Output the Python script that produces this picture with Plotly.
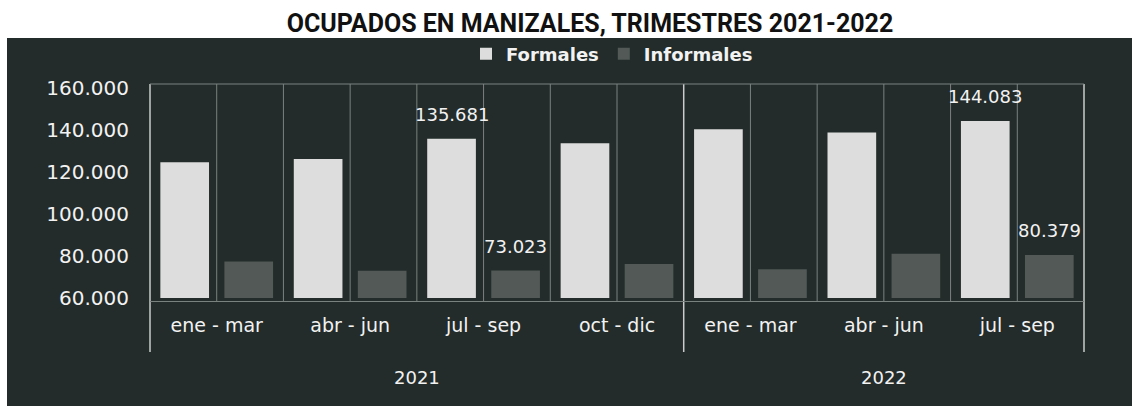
import plotly.graph_objects as go

# ---- data ----
years = ["2021", "2021", "2021", "2021", "2022", "2022", "2022"]
quarters = ["ene - mar", "abr - jun", "jul - sep", "oct - dic", "ene - mar", "abr - jun", "jul - sep"]
formales = [124500, 126000, 135681, 133600, 140200, 138600, 144083]
informales = [77300, 72900, 73023, 76200, 73700, 81000, 80379]
labeled_idx = [2, 6]          # quarters whose values are printed
y_ticks = [60000, 80000, 100000, 120000, 140000, 160000]

W, H = 1132, 406
L, R, T, B = 150, 48, 84, 108
pw, ph = W - L - R, H - T - B

def py(ypix):   # pixel row -> paper y
    return (H - B - ypix) / ph

def px(xpix):   # pixel col -> paper x
    return (xpix - L) / pw

panel = "#232c2a"
formal_c = "#dcdddc"
informal_c = "#525957"
grid_c = "#7a8280"
axis_c = "#c9cccb"
txt_c = "#f2f2f2"
font = "DejaVu Sans"

def fmt(v):
    return f"{v:,}".replace(",", ".")

keys = [f"{y} {q}" for y, q in zip(years, quarters)]

fig = go.Figure()
fig.add_trace(go.Bar(x=keys, y=formales, name="Formales",
                     marker=dict(color=formal_c, line=dict(width=0))))
fig.add_trace(go.Bar(x=keys, y=informales, name="Informales",
                     marker=dict(color=informal_c, line=dict(width=0))))

shapes = []
# dark panel
shapes.append(dict(type="rect", xref="paper", yref="paper", layer="below",
                   x0=px(7), x1=px(W + 2), y0=py(H + 2), y1=py(38),
                   fillcolor=panel, line=dict(width=0)))
n = len(quarters)
# vertical lines at half-category steps
group_bounds = {0, n}
for i in range(1, n):
    if years[i] != years[i - 1]:
        group_bounds.add(i)
for k in range(2 * n + 1):
    pos = k / (2 * n)
    if k % 2 == 0 and (k // 2) in group_bounds:
        shapes.append(dict(type="line", xref="paper", yref="paper",
                           x0=pos, x1=pos, y0=1, y1=py(352),
                           line=dict(color=axis_c, width=1.5)))
    else:
        shapes.append(dict(type="line", xref="paper", yref="paper",
                           x0=pos, x1=pos, y0=1, y1=py(301.5),
                           line=dict(color=grid_c, width=1)))
# top & bottom frame lines
for yy in (1, py(301.5)):
    shapes.append(dict(type="line", xref="paper", yref="paper",
                       x0=0, x1=1, y0=yy, y1=yy,
                       line=dict(color=grid_c, width=1)))

annotations = []
for i in labeled_idx:
    annotations.append(dict(x=i, y=formales[i], xref="x", yref="y",
                            text=fmt(formales[i]), showarrow=False,
                            xanchor="center", yanchor="bottom",
                            xshift=-32, yshift=12,
                            font=dict(family=font, size=18, color=txt_c)))
    annotations.append(dict(x=i, y=informales[i], xref="x", yref="y",
                            text=fmt(informales[i]), showarrow=False,
                            xanchor="center", yanchor="bottom",
                            xshift=32, yshift=12,
                            font=dict(family=font, size=18, color=txt_c)))

# year group labels
seen = []
for y in years:
    if y not in seen:
        seen.append(y)
for y in seen:
    idx = [i for i, v in enumerate(years) if v == y]
    annotations.append(dict(x=(idx[0] + idx[-1]) / 2, y=py(377), xref="x", yref="paper",
                            text=y, showarrow=False, xanchor="center", yanchor="middle",
                            font=dict(family=font, size=18, color=txt_c)))

fig.update_layout(
    width=W, height=H,
    margin=dict(l=L, r=R, t=T, b=B, pad=0),
    paper_bgcolor="white",
    plot_bgcolor="rgba(0,0,0,0)",
    separators=",.",
    barmode="group",
    bargap=0.04,
    bargroupgap=0.24,
    title=dict(text="<b>OCUPADOS EN MANIZALES, TRIMESTRES 2021-2022</b>",
               x=590 / W, xref="container", xanchor="center",
               y=1 - 23 / H, yref="container", yanchor="middle",
               font=dict(family="Roboto", size=25, color="#111111")),
    legend=dict(orientation="h", x=px(612), xanchor="center", y=py(54), yanchor="middle",
                font=dict(family=font, size=18, color=txt_c, weight="bold"),
                bgcolor="rgba(0,0,0,0)", itemclick=False, itemwidth=30),
    xaxis=dict(type="category", tickvals=keys, ticktext=quarters,
               showgrid=False, showline=False, ticks="",
               tickfont=dict(family=font, size=19, color=txt_c),
               ticklabelstandoff=14),
    yaxis=dict(range=[60000, 161700], tickvals=y_ticks, tickformat=",d",
               showgrid=False, zeroline=False, showline=False, ticks="",
               tickfont=dict(family=font, size=20, color=txt_c),
               ticklabelstandoff=20),
    shapes=shapes,
    annotations=annotations,
)

fig.write_html("out.html")
